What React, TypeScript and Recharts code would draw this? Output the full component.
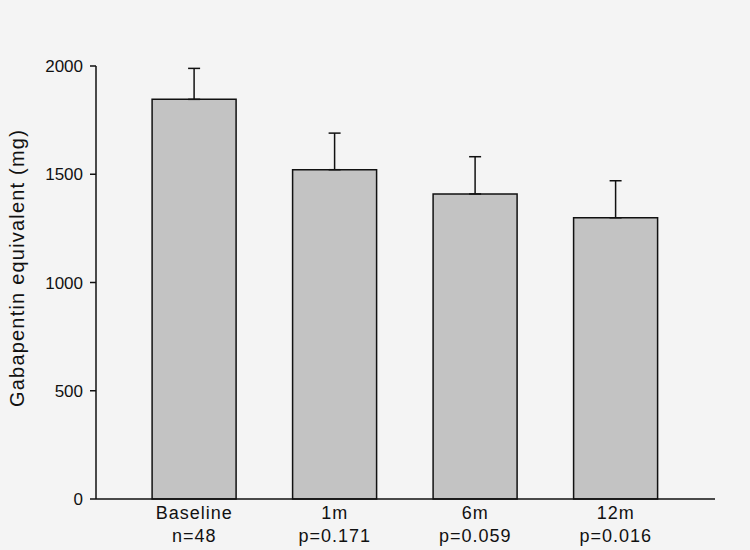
import { BarChart, Bar, XAxis, YAxis, ErrorBar } from 'recharts';

const groups = ['Baseline', '1m', '6m', '12m'];
const subLabels = ['n=48', 'p=0.171', 'p=0.059', 'p=0.016'];
const doseMeans = [1846, 1521, 1409, 1299];
const doseErrors = [143, 169, 172, 171];
const yTicks = [0, 500, 1000, 1500, 2000];

const data = groups.map((g, i) => ({
  name: g,
  mean: doseMeans[i],
  err: [0, doseErrors[i]],
}));

const font = '"Liberation Sans", Arial, sans-serif';

const XTick = (props: any) => {
  const { x, y, payload, index } = props;
  return (
    <text x={x} y={y} textAnchor="middle" fill="#111" fontSize={18} fontFamily={font} letterSpacing={1}>
      <tspan x={x} dy={12}>{payload.value}</tspan>
      <tspan x={x} dy={23}>{subLabels[index]}</tspan>
    </text>
  );
};

const YLabel = () => (
  <text
    x={17}
    y={268}
    transform="rotate(-90, 17, 268)"
    textAnchor="middle"
    dominantBaseline="central"
    fill="#111"
    fontSize={20}
    fontFamily={font}
    letterSpacing={1.2}
  >
    Gabapentin equivalent (mg)
  </text>
);

const App = () => {
  return (
    <div style={{ position: 'absolute', left: 0, top: 0, width: 750, height: 550, background: '#f4f4f4' }}>
      <BarChart
        width={750}
        height={550}
        data={data}
        barCategoryGap="20%"
        margin={{ top: 66, right: 35, left: 0, bottom: 0 }}
      >
        <XAxis
          dataKey="name"
          height={51}
          padding={{ left: 28, right: 29 }}
          tickLine={false}
          axisLine={{ stroke: '#111', strokeWidth: 1.5 }}
          tick={<XTick />}
          interval={0}
        />
        <YAxis
          width={96}
          domain={[0, 2000]}
          ticks={yTicks}
          tickSize={6}
          tickMargin={7}
          axisLine={{ stroke: '#111', strokeWidth: 1.5 }}
          tickLine={{ stroke: '#111', strokeWidth: 1.5 }}
          tick={{ fill: '#111', fontSize: 17, fontFamily: font }}
          label={<YLabel />}
        />
        <Bar dataKey="mean" fill="#c3c3c3" stroke="#111" strokeWidth={1.5} isAnimationActive={false}>
          <ErrorBar dataKey="err" width={6} stroke="#111" strokeWidth={1.5} direction="y" />
        </Bar>
      </BarChart>
    </div>
  );
};

export default App;
